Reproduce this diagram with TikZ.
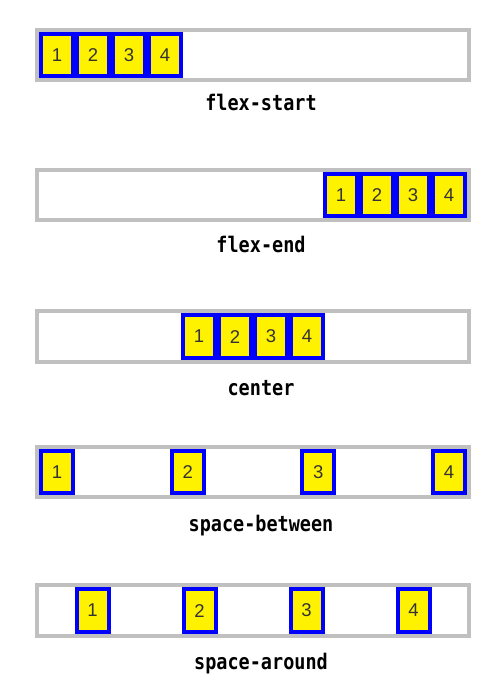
\documentclass[tikz,border=0pt]{standalone}
\usepackage{fontspec}
\newfontfamily\numfont{Liberation Sans}
\newfontfamily\capfont[FakeStretch=0.86]{DejaVu Sans Mono}
\definecolor{silver}{RGB}{192,192,192}
\definecolor{digit}{RGB}{51,51,51}

\begin{document}
\begin{tikzpicture}[x=1pt, y=-1pt,
  box/.style={draw=silver, line width=4pt, inner sep=0pt,
              minimum width=432pt, minimum height=50.5pt},
  item/.style={draw=blue, fill=yellow, line width=4pt, inner sep=0pt,
               minimum width=32pt, minimum height=42.5pt, text=digit,
               font=\numfont\fontsize{18.5}{18.5}\selectfont},
  caption/.style={anchor=base, inner sep=0pt,
                  font=\capfont\bfseries\fontsize{21.5}{21.5}\selectfont}]

\useasboundingbox (0,0) rectangle (500,692);

% one row per value of justify-content
\foreach \r/\ty/\by/\lab/\xa/\xb/\xc/\xd in {
    1/28/110.7/flex-start/39/75/111/147,
    2/168/252.7/flex-end/323/359/395/431,
    3/309.3/395/center/181/217/253/289,
    4/444.7/531/space-between/39/169.67/300.33/431,
    5/583.3/669.3/space-around/74.5/181.5/288.5/395.5} {
  \node[box] (row\r) at (253,\ty+27.25) {};
  \foreach \i/\x in {1/\xa,2/\xb,3/\xc,4/\xd}
    \node[item] (row\r-\i) at (\x+18,\ty+27.25) {\i};
  \node[caption] (lab\r) at (261,\by) {\lab};
}

\end{tikzpicture}
\end{document}
